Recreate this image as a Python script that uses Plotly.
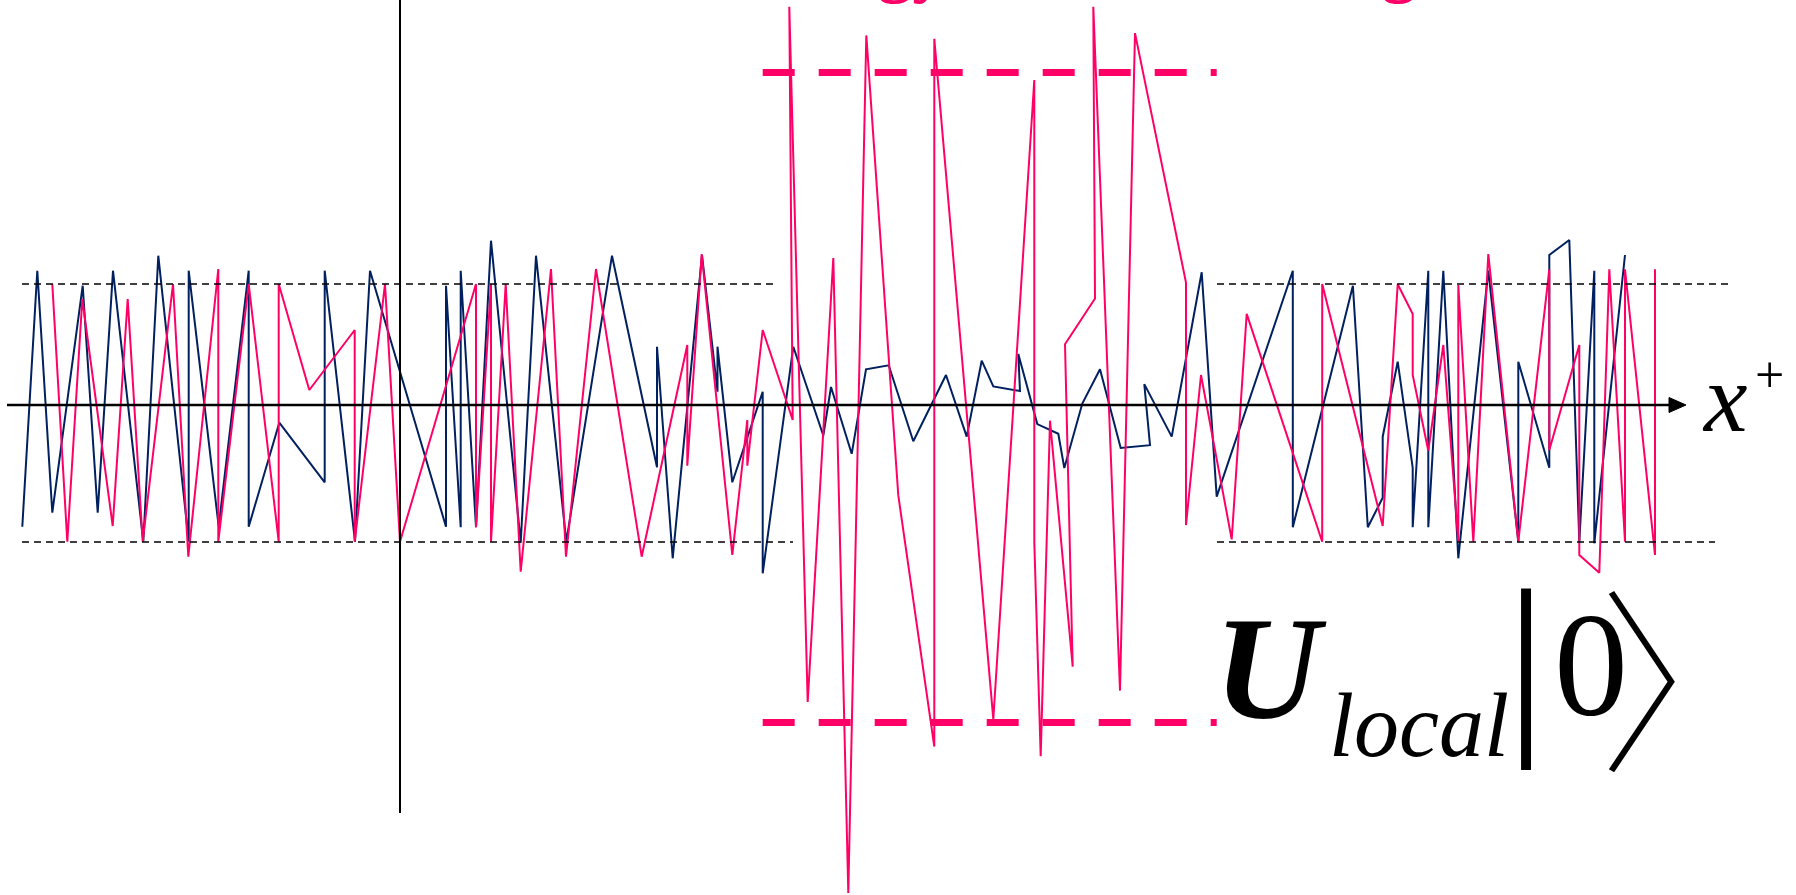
import plotly.graph_objects as go

# ---------------- data (x = light-front time units, y = amplitude units) ----------------
navy_t = [2.23, 3.73, 5.23, 8.27, 9.77, 11.30, 14.33, 15.83, 18.87, 18.87, 21.87, 24.87, 24.87,
          27.93, 32.47, 32.47, 35.50, 37.00, 44.60, 44.60, 46.07, 46.07, 47.60, 49.10, 52.07,
          53.60, 56.63, 61.20, 65.70, 65.70, 67.27, 70.20, 71.75, 71.75, 73.23, 76.27, 76.27,
          79.33, 82.33, 83.10, 85.17, 86.60, 88.87, 91.33, 94.60, 96.67, 98.17, 99.33, 102.00,
          101.83, 103.73, 105.83, 106.43, 108.23, 110.00, 112.07, 115.00, 114.43, 117.17,
          120.17, 121.67, 129.28, 129.28, 135.29, 136.78, 138.27, 138.27, 139.77, 141.27,
          141.27, 142.83, 142.83, 144.33, 145.83, 148.83, 151.83, 151.83, 154.93, 154.93,
          156.93, 157.93, 159.43, 159.43, 162.50]
navy_v = [-12.17, 13.43, -10.77, 11.93, -10.77, 13.43, -13.67, 14.93, -13.67, 13.43, -12.17,
          13.43, -12.17, -1.77, -7.73, 13.43, -13.67, 13.43, -12.17, 11.93, -12.23, 13.43,
          -12.23, 16.43, -13.77, 14.93, -13.67, 14.93, -6.23, 5.83, -15.33, 15.00, 1.33, 5.83,
          -7.73, 1.33, -16.83, 5.83, -3.05, 1.80, -4.88, 3.57, 3.97, -3.62, 3.00, -3.16, 4.43,
          1.86, 1.40, 5.11, -1.91, -2.88, -6.30, 0.15, 3.57, -4.30, -4.02, 2.09, -3.16, 13.27,
          -9.16, 13.43, -12.23, 11.93, -12.23, -9.27, -3.17, 4.33, -6.27, -12.23, 13.43,
          -12.23, 13.43, -15.33, 13.43, -13.67, 4.33, -6.27, 15.00, 16.50, -13.67, 13.43,
          -13.83, 15.00]

pink_t = [5.23, 6.73, 8.23, 11.27, 12.77, 14.27, 17.30, 18.83, 21.83, 21.83, 24.87, 27.87,
          27.87, 30.93, 35.47, 35.47, 38.50, 40.00, 47.60, 47.60, 49.10, 49.10, 50.57, 52.07,
          55.10, 56.60, 59.60, 64.17, 68.73, 68.73, 70.17, 73.23, 74.73, 74.73, 76.27, 79.27,
          78.93, 80.77, 83.33, 84.83, 86.63, 89.83, 93.43, 93.43, 99.33, 103.43, 103.43,
          104.07, 105.00, 107.27, 106.50, 109.50, 109.33, 112.00, 113.50, 118.60, 118.60,
          120.10, 123.17, 124.67, 132.22, 132.22, 138.27, 139.77, 141.27, 141.27, 142.83,
          144.33, 145.83, 145.83, 147.33, 148.83, 151.83, 154.93, 154.93, 157.93, 157.93,
          159.93, 160.93, 162.50, 162.50, 165.50, 165.50]
pink_v = [12.10, -13.67, 10.60, -12.10, 10.60, -13.67, 12.10, -15.17, 13.60, -13.67, 12.10,
          -13.67, 12.10, 1.50, 7.50, -13.67, 12.10, -13.67, 12.10, -12.23, 12.10, -13.67, 12.10,
          -16.67, 13.60, -15.17, 13.60, -15.17, 6.00, -6.07, 15.10, -15.00, -1.50, -6.07, 7.50,
          -1.50, 39.82, -29.70, 14.70, -48.80, 36.96, -9.04, -34.16, 36.62, -31.42, 32.50,
          -13.70, -35.13, -1.57, -26.17, 6.08, 10.65, 39.82, -28.56, 37.19, 12.25, -12.01,
          3.00, -13.44, 9.11, -13.67, 12.10, -12.10, 12.07, 9.10, 3.00, -4.57, 6.00, -13.67,
          12.00, -13.67, 15.10, -13.67, 13.57, -4.50, 6.00, -15.00, -16.77, 13.57, -13.67,
          13.57, -15.00, 13.57]

vacuum_band = [12.1, -13.7]      # black dashed levels
local_band = [33.25, -31.75]     # pink dashed levels

title_text = "Energy non-conserving"
axis_label = "x"
axis_sup = "+"
op_label = "U"
op_sub = "local"
ket_bar = "|"
ket_state = "0"
ket_close = "\u3009"

NAVY = "#002060"
PINK = "#FF0066"

X_RANGE = [0, 179.6]
Y_RANGE = [-49.0, 40.5]

fig = go.Figure()

fig.add_trace(go.Scatter(x=navy_t, y=navy_v, mode="lines",
                         line=dict(color=NAVY, width=2), hoverinfo="skip", showlegend=False))
fig.add_trace(go.Scatter(x=pink_t, y=pink_v, mode="lines",
                         line=dict(color=PINK, width=2), hoverinfo="skip", showlegend=False))

shapes = []
# black dashed bands (left and right pieces)
for lvl, (l0, l1), (r0, r1) in [(vacuum_band[0], (2.2, 77.3), (121.7, 173.0)),
                                (vacuum_band[1], (2.2, 79.3), (121.7, 171.5))]:
    for a, b in [(l0, l1), (r0, r1)]:
        shapes.append(dict(type="line", xref="x", yref="y", x0=a, x1=b, y0=lvl, y1=lvl,
                           line=dict(color="black", width=1.5, dash="7px,5px"), layer="above"))
# pink thick dashed lines
for lvl in local_band:
    shapes.append(dict(type="line", xref="x", yref="y", x0=76.27, x1=121.67, y0=lvl, y1=lvl,
                       line=dict(color=PINK, width=7, dash="32px,24px"), layer="above"))
# vertical black line
shapes.append(dict(type="line", xref="x", yref="y", x0=40.0, x1=40.0, y0=40.5, y1=-40.8,
                   line=dict(color="black", width=2), layer="above"))
# horizontal axis with arrowhead
shapes.append(dict(type="line", xref="x", yref="y", x0=0.7, x1=167.2, y0=0, y1=0,
                   line=dict(color="black", width=2.5), layer="above"))
shapes.append(dict(type="path", xref="x", yref="y",
                   path="M 166.9,0.75 L 168.6,0 L 166.9,-0.75 Z",
                   fillcolor="black", line=dict(color="black", width=1), layer="above"))

SERIF = "Liberation Serif"
ann = []
ann.append(dict(text=title_text, x=73.0, y=39.9, xref="x", yref="y", xanchor="left",
                yanchor="bottom", showarrow=False,
                font=dict(family=SERIF, size=69, color=PINK, weight="bold")))
ann.append(dict(text=axis_label, x=172.5, y=0.67, xref="x", yref="y",
                xanchor="center", yanchor="middle", showarrow=False,
                font=dict(family=SERIF, size=98, color="black", style="italic")))
ann.append(dict(text=axis_sup, x=176.95, y=3.08, xref="x", yref="y",
                xanchor="center", yanchor="middle", showarrow=False,
                font=dict(family=SERIF, size=52, color="black")))
ann.append(dict(text=op_label, x=127.0, y=-26.34, xref="x", yref="y",
                xanchor="center", yanchor="middle", showarrow=False,
                font=dict(family=SERIF, size=147, color="black", weight="bold", style="italic")))
ann.append(dict(text=op_sub, x=141.9, y=-32.03, xref="x", yref="y",
                xanchor="center", yanchor="middle", showarrow=False,
                font=dict(family=SERIF, size=90, color="black", style="italic")))
ann.append(dict(text=ket_bar, x=152.6, y=-25.45, xref="x", yref="y",
                xanchor="center", yanchor="middle", showarrow=False,
                font=dict(family=SERIF, size=200, color="black")))
ann.append(dict(text=ket_state, x=159.05, y=-26.0, xref="x", yref="y",
                xanchor="center", yanchor="middle", showarrow=False,
                font=dict(family=SERIF, size=148, color="black")))
ann.append(dict(text=ket_close, x=169.7, y=-26.47, xref="x", yref="y",
                xanchor="center", yanchor="middle", showarrow=False,
                font=dict(family="Noto Sans CJK JP", size=197, color="black", weight=100)))

fig.update_layout(
    width=1796, height=895, autosize=False,
    margin=dict(l=0, r=0, t=0, b=0, pad=0),
    paper_bgcolor="white", plot_bgcolor="white",
    xaxis=dict(range=X_RANGE, visible=False, fixedrange=True),
    yaxis=dict(range=Y_RANGE, visible=False, fixedrange=True),
    shapes=shapes, annotations=ann, showlegend=False,
)

fig.write_html("out.html", config={"displayModeBar": False},
               post_script="document.body.style.margin='0px';")
